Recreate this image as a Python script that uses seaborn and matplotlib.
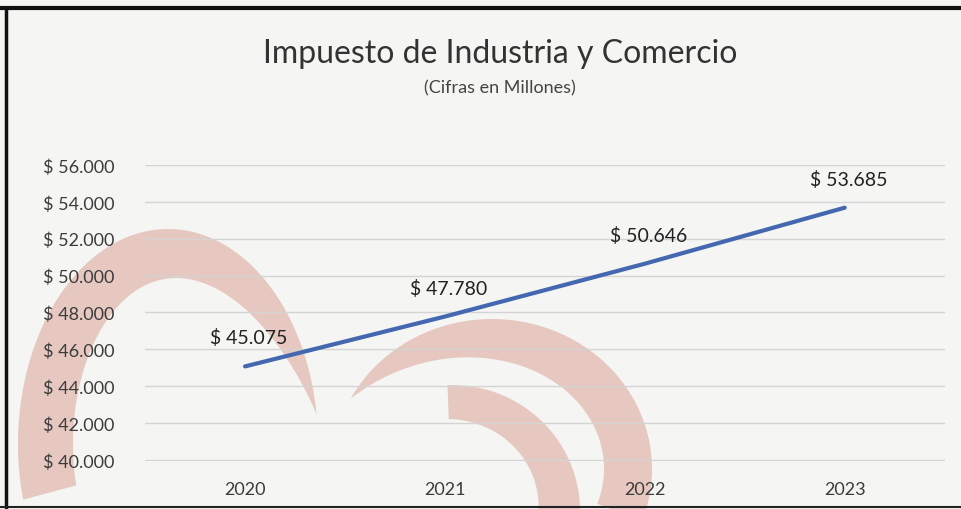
import numpy as np
import pandas as pd
import matplotlib.pyplot as plt
import seaborn as sns
from matplotlib.patches import Polygon

################################################################################

years = ['2020', '2021', '2022', '2023']
valores = [45075, 47780, 50646, 53685]
y_ticks = [40000, 42000, 44000, 46000, 48000, 50000, 52000, 54000, 56000]

titulo = 'Impuesto de Industria y Comercio'
subtitulo = '(Cifras en Millones)'

################################################################################

def pesos(v):
    return '$ ' + f'{v:,.0f}'.replace(',', '.')


def crescent(fig, cx, cy, rx, ry, t0, t1, w, color):
    '''
        Thick elliptical arc (in pixel coords, y from top) used for the
        faded logo in the background of the scanned page.
    '''
    t = np.radians(np.linspace(t0, t1, len(w)))
    ox = cx + rx * np.cos(t)
    oy = cy - ry * np.sin(t)
    ix = cx + (rx - w) * np.cos(t)
    iy = cy - (ry - w) * np.sin(t)
    xs = np.concatenate([ox, ix[::-1]]) / 961
    ys = 1 - np.concatenate([oy, iy[::-1]]) / 510
    fig.patches.append(Polygon(np.column_stack([xs, ys]), closed = True,
                               transform = fig.transFigure, facecolor = color,
                               edgecolor = 'none', zorder = -1))


sns.set_theme(style = 'white')
plt.rcParams['font.family'] = ['Lato', 'DejaVu Sans']

fig = plt.figure(figsize = (9.61, 5.10), dpi = 100)
fig.patch.set_facecolor('#f5f5f3')

# logo watermark
wm = '#e6c8c1'
s = np.linspace(0, 1, 150)
crescent(fig, 168, 445, 150, 215, 195, 8, 55 * (1 - s ** 4), wm)
crescent(fig, 492, 470, 160, 150, 152, -20, 48 * (1 - (1 - s) ** 4), wm)
crescent(fig, 452, 512, 128, 126, 92, -5, 34 + 8 * s, wm)

ax = fig.add_axes([0.151, 0.094, 0.832, 0.5805])
ax.set_facecolor('none')

df = pd.DataFrame({'year': years, 'valor': valores})
sns.lineplot(data = df, x = 'year', y = 'valor', ax = ax, color = '#4468b0',
             linewidth = 3, zorder = 3)

ax.set_xlim(-0.5, 3.5)
ax.set_ylim(39940, 56000)
ax.set_yticks(y_ticks)
ax.set_yticklabels([pesos(v) for v in y_ticks], fontsize = 13, color = '#3c3c3c')
ax.tick_params(axis = 'x', labelsize = 13, labelcolor = '#3c3c3c', pad = 14, length = 0)
ax.tick_params(axis = 'y', pad = 22, length = 0)
ax.set_xlabel('')
ax.set_ylabel('')
ax.grid(axis = 'y', color = '#d4d4d4', linewidth = 1)
ax.set_axisbelow(True)
sns.despine(ax = ax, left = True, bottom = True)

for i, v in enumerate(valores):
    ax.annotate(pesos(v), (i, v), xytext = (4, 29), textcoords = 'offset pixels',
                ha = 'center', va = 'center', fontsize = 14, color = '#222222')

fig.text(0.52, 0.895, titulo, ha = 'center', va = 'center', fontsize = 23,
         color = '#333333')
fig.text(0.52, 0.827, subtitulo, ha = 'center', va = 'center', fontsize = 13,
         color = '#444444')

# page frame of the scan
fig.add_artist(plt.Line2D([0, 1], [0.982, 0.982], transform = fig.transFigure,
                          color = '#111111', linewidth = 3))
fig.add_artist(plt.Line2D([0.006, 0.006], [0, 0.982], transform = fig.transFigure,
                          color = '#111111', linewidth = 2.5))
fig.add_artist(plt.Line2D([0, 1], [0.004, 0.004], transform = fig.transFigure,
                          color = '#222222', linewidth = 1.5))

fig.savefig('out.png', dpi = 100, facecolor = fig.get_facecolor())
